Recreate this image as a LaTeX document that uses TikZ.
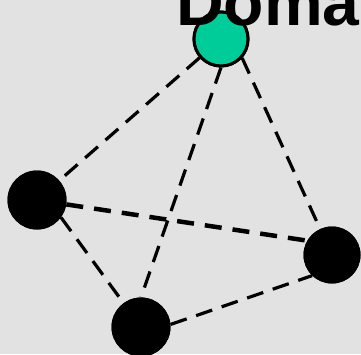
\documentclass[tikz,border=0pt]{standalone}
\usepackage{fontspec}
\setsansfont{Liberation Sans}
\definecolor{bggray}{RGB}{226,226,226}
\definecolor{hubgreen}{RGB}{0,204,153}
\begin{document}
\begin{tikzpicture}[x=1pt, y=-1pt,
    vertex/.style={circle, fill=black, minimum size=59pt, inner sep=0pt},
    hub/.style={vertex, fill=hubgreen, draw=black, line width=3pt, minimum size=54pt},
    link/.style={line width=3.2pt, dash pattern=on 17pt off 10pt}]
  \useasboundingbox (0,0) rectangle (361,354);
  \fill[bggray] (0,0) rectangle (361,354);
  \node[hub] (H) at (221,39) {};
  \node[vertex] (L) at (37,200) {};
  \node[vertex, minimum size=57pt] (R) at (332,255) {};
  \node[vertex] (B) at (141,327) {};
  \draw[link] (H) -- (L);
  \draw[link] (H.-42) -- (R);
  \draw[link] (H.south) -- (B.north);
  \draw[link, line width=4.5pt, dash pattern=on 17pt off 11pt] (L) -- (R.150);
  \draw[link] (L.-36) -- (B);
  \draw[link] (B.5) -- (R.226);
  % redraw the nodes over the links
  \node[hub] at (H) {};
  \node[vertex] at (L) {};
  \node[vertex, minimum size=57pt] at (R) {};
  \node[vertex] at (B) {};
  \node[font=\sffamily\bfseries\fontsize{66}{66}\selectfont, anchor=base west, inner sep=0pt] (T) at (176,25) {Doma};
\end{tikzpicture}
\end{document}
